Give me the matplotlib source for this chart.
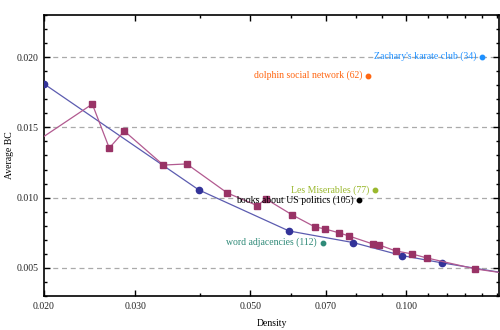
import matplotlib
matplotlib.use("Agg")
import matplotlib.pyplot as plt
from matplotlib.ticker import FixedLocator, NullFormatter

plt.rcParams['font.family'] = ['Liberation Serif', 'DejaVu Serif']

# Purple series (squares)
purple_x = [0.0180, 0.02479, 0.02673, 0.02858, 0.03399, 0.03772, 0.04518, 0.05162, 0.05361,
            0.06016, 0.06664, 0.06958, 0.07432, 0.07742, 0.08614, 0.08847, 0.0954, 0.10246,
            0.1096, 0.1358, 0.160]
purple_y = [0.01323, 0.01666, 0.01353, 0.01474, 0.01232, 0.01240, 0.01033, 0.00943, 0.00991,
            0.00879, 0.00792, 0.00778, 0.00749, 0.00728, 0.00671, 0.00665, 0.00621, 0.00600,
            0.00571, 0.00493, 0.00455]

# Blue series (circles)
blue_x = [0.0200, 0.0398, 0.0594, 0.0791, 0.0981, 0.1172, 0.160]
blue_y = [0.0181, 0.01055, 0.00763, 0.00680, 0.00588, 0.00536, 0.00455]

# Labelled networks
net_names = ["Zachary's karate club (34)", "dolphin social network (62)", "Les Miserables (77)",
             "books about US politics (105)", "word adjacencies (112)"]
net_x = [0.1404, 0.0845, 0.0872, 0.0812, 0.0690]
net_y = [0.02004, 0.01869, 0.01055, 0.00984, 0.00680]
net_colors = ["#1E90FF", "#FF6611", "#9AB82E", "#000000", "#2F8A78"]

x_major = [0.02, 0.03, 0.05, 0.07, 0.10]
x_major_labels = ["0.020", "0.030", "0.050", "0.070", "0.100"]
x_minor = [0.04, 0.06, 0.08, 0.09, 0.11, 0.12, 0.13, 0.14, 0.15]
y_major = [0.005, 0.010, 0.015, 0.020]
y_major_labels = ["0.005", "0.010", "0.015", "0.020"]
y_minor = [0.003 + 0.001 * i for i in range(21)]

fig = plt.figure(figsize=(5, 3.3), dpi=100)
ax = fig.add_axes([44 / 500, 34 / 330, 455 / 500, 281 / 330])
ax.set_xscale('log')
ax.set_xlim(0.02, 0.1511)
ax.set_ylim(0.003, 0.023)

for yv in y_major:
    ax.axhline(yv, color='#aaaaaa', lw=0.9, dashes=(4, 3), zorder=0)

ax.plot(blue_x, blue_y, color='#5c5cb0', lw=0.9, zorder=2)
ax.plot(blue_x, blue_y, 'o', color='#333399', ms=4.5, zorder=3)
ax.plot(purple_x, purple_y, color='#b25a90', lw=0.9, zorder=4)
ax.plot(purple_x, purple_y, 's', color='#993366', ms=4.5, zorder=5)

for name, xv, yv, c in zip(net_names, net_x, net_y, net_colors):
    ax.plot([xv], [yv], 'o', color=c, ms=3.2, zorder=6)
    ax.annotate(name, (xv, yv), xytext=(-6, 0), textcoords='offset pixels',
                ha='right', va='center', color=c, fontsize=7, zorder=6)

ax.set_xticks(x_major)
ax.set_xticklabels(x_major_labels)
ax.xaxis.set_minor_locator(FixedLocator(x_minor))
ax.xaxis.set_minor_formatter(NullFormatter())
ax.set_yticks(y_major)
ax.set_yticklabels(y_major_labels)
ax.yaxis.set_minor_locator(FixedLocator(y_minor))

ax.tick_params(which='both', direction='in', top=True, right=True, labelsize=7,
               colors='black', labelcolor='#222222', width=1)
ax.tick_params(which='major', length=4, pad=4)
ax.tick_params(which='minor', length=2.5)
for s in ax.spines.values():
    s.set_linewidth(1.2)

ax.set_xlabel('Density', fontsize=7, labelpad=6)
ax.set_ylabel('Average BC', fontsize=7, labelpad=2)

fig.savefig('out.png', dpi=100)
